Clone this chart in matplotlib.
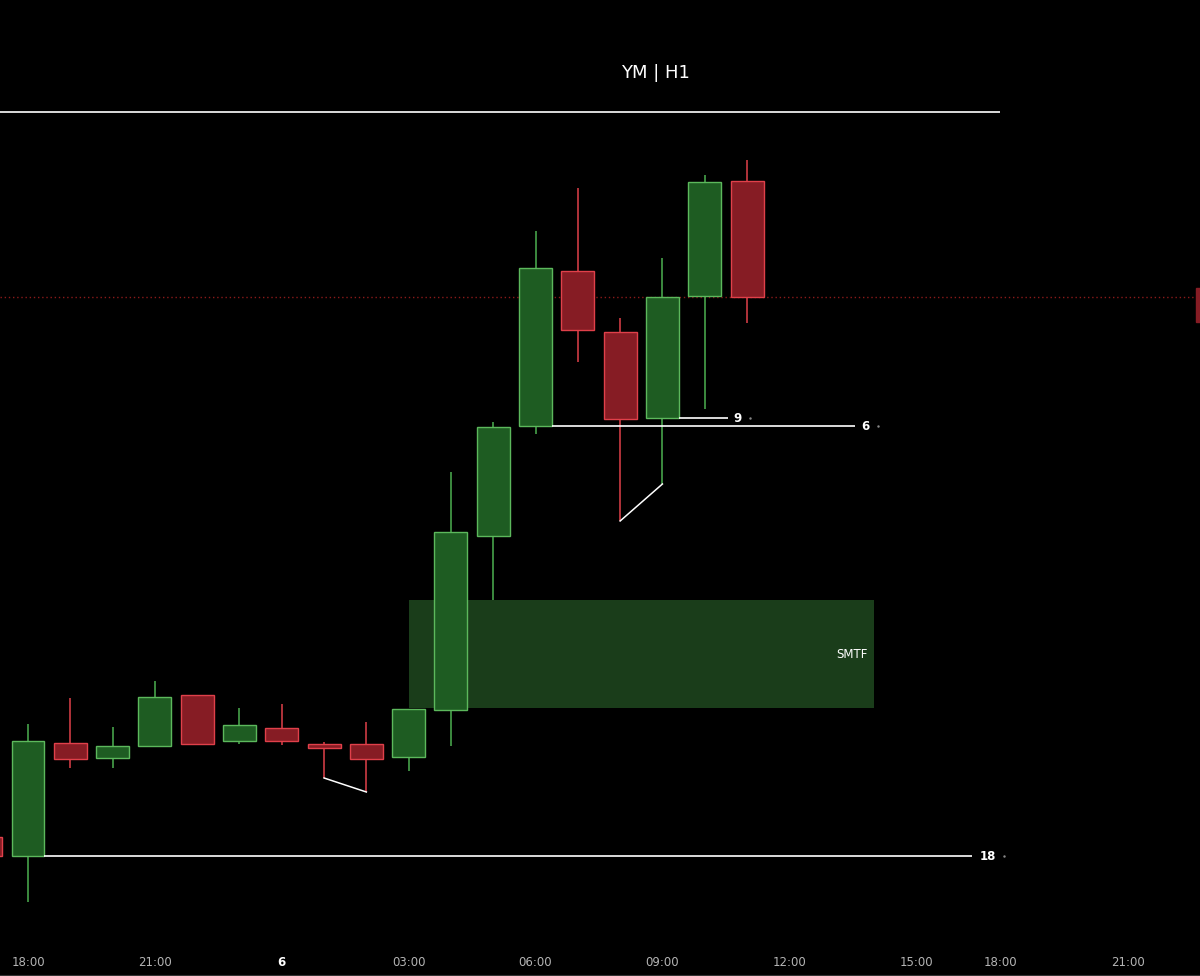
import matplotlib
matplotlib.use("Agg")
import matplotlib.pyplot as plt
import numpy as np

# Kerzen (H1), Index 0 = 18:00, Preis in Punkten relativ
idx = [-1, 0, 1, 2, 3, 4, 5, 6, 7, 8, 9, 10, 11, 12, 13, 14, 15, 16, 17]
opens = [107, 88, 201, 186, 198, 249, 203, 216, 200, 200, 187, 234, 408, 518, 673, 612, 526, 648, 763]
highs = [109, 220, 246, 217, 263, 249, 236, 240, 202, 222, 235, 472, 522, 713, 756, 626, 686, 769, 784]
lows = [86, 42, 176, 176, 198, 200, 200, 199, 166, 152, 173, 198, 344, 510, 582, 423, 460, 535, 621]
closes = [88, 203, 185, 198, 247, 200, 219, 203, 196, 185, 235, 412, 517, 676, 614, 525, 647, 762, 647]

tick_pos = [0, 3, 6, 9, 12, 15, 18, 21, 23, 26]
tick_labels = ['18:00', '21:00', '6', '03:00', '06:00', '09:00', '12:00', '15:00', '18:00', '21:00']

# Level-Linien: (Preis, von, bis, Label, Label-Position)
top_level = 832
levels = [(518, 12.39, 19.55, '6', 19.79),
          (526, 15.39, 16.55, '9', 16.78),
          (88, 0.39, 22.32, '18', 22.70)]
smt_lines = [((7, 166), (8, 152)), ((14, 423), (15, 460))]
smtf_box = (9.0, 20.0, 236, 344)
last_price = closes[-1]

# Farben
bg = '#000000'
up_body, up_edge, up_wick = '#1e5c22', '#5cb85c', '#4caf50'
dn_body, dn_edge, dn_wick = '#861c24', '#e0404a', '#e0404a'

fig = plt.figure(figsize=(12, 9.76), dpi=100, facecolor=bg)
ax = fig.add_axes([0, 32 / 976, 1, 944 / 976])
ax.set_facecolor(bg)
ax.set_xlim(-0.662, 27.71)
ax.set_ylim(0, 944)

# SMTF Zone
x0, x1, y0, y1 = smtf_box
ax.fill_between([x0, x1], y0, y1, color='#1a3d1a', zorder=1, linewidth=0)
ax.text(19.86, 290, 'SMTF', color='white', fontsize=8.5, ha='right', va='center', zorder=5)

# Kerzen
w = 0.39
for i, o, h, l, c in zip(idx, opens, highs, lows, closes):
    up = c >= o
    ax.vlines(i, l, h, color=up_wick if up else dn_wick, linewidth=1.1, zorder=2)
    lo, hi = min(o, c), max(o, c)
    ax.bar(i, max(hi - lo, 1.5), width=2 * w, bottom=lo,
           color=up_body if up else dn_body,
           edgecolor=up_edge if up else dn_edge, linewidth=1.0, zorder=3)

# Linien
ax.hlines(top_level, -0.662, 22.98, color='white', linewidth=1.2, zorder=4)
for price, xa, xb, label, xl in levels:
    ax.hlines(price, xa, xb, color='white', linewidth=1.2, zorder=4)
    ax.text(xl, price, label, color='white', fontsize=8.5, fontweight='bold',
            ha='center', va='center', zorder=5)
    ax.plot(xl + 0.22 + 0.08 * len(label), price, marker='.', markersize=1.5,
            color='#888888', zorder=5)

for (xa, ya), (xb, yb) in smt_lines:
    ax.plot([xa, xb], [ya, yb], color='white', linewidth=1.1, zorder=4)

# Aktueller Preis
ax.axhline(last_price, color='#8b1a1a', linestyle=(0, (1, 2)), linewidth=1.0, zorder=1)
ax.add_patch(plt.Rectangle((27.62, last_price - 25), 0.2, 34, color='#861c24',
                           zorder=6, clip_on=False))

# Achsen
for s in ax.spines.values():
    s.set_visible(False)
ax.set_yticks([])
ax.set_xticks(tick_pos)
ax.set_xticklabels(tick_labels)
ax.tick_params(axis='x', length=0, pad=9, labelsize=8.5, colors='#b4b4b4')
for lbl in ax.get_xticklabels():
    if lbl.get_text() == '6':
        lbl.set_color('white')
        lbl.set_fontweight('bold')

# Unterer Rand
fig.add_artist(plt.Line2D([0, 1], [0.5 / 976, 0.5 / 976], color='#333333', linewidth=1.5))

# Titel
fig.text(0.546, 1 - 73 / 976, 'YM | H1', color='white', fontsize=13,
         ha='center', va='center')

plt.savefig('out.png', dpi=100, facecolor=bg)
